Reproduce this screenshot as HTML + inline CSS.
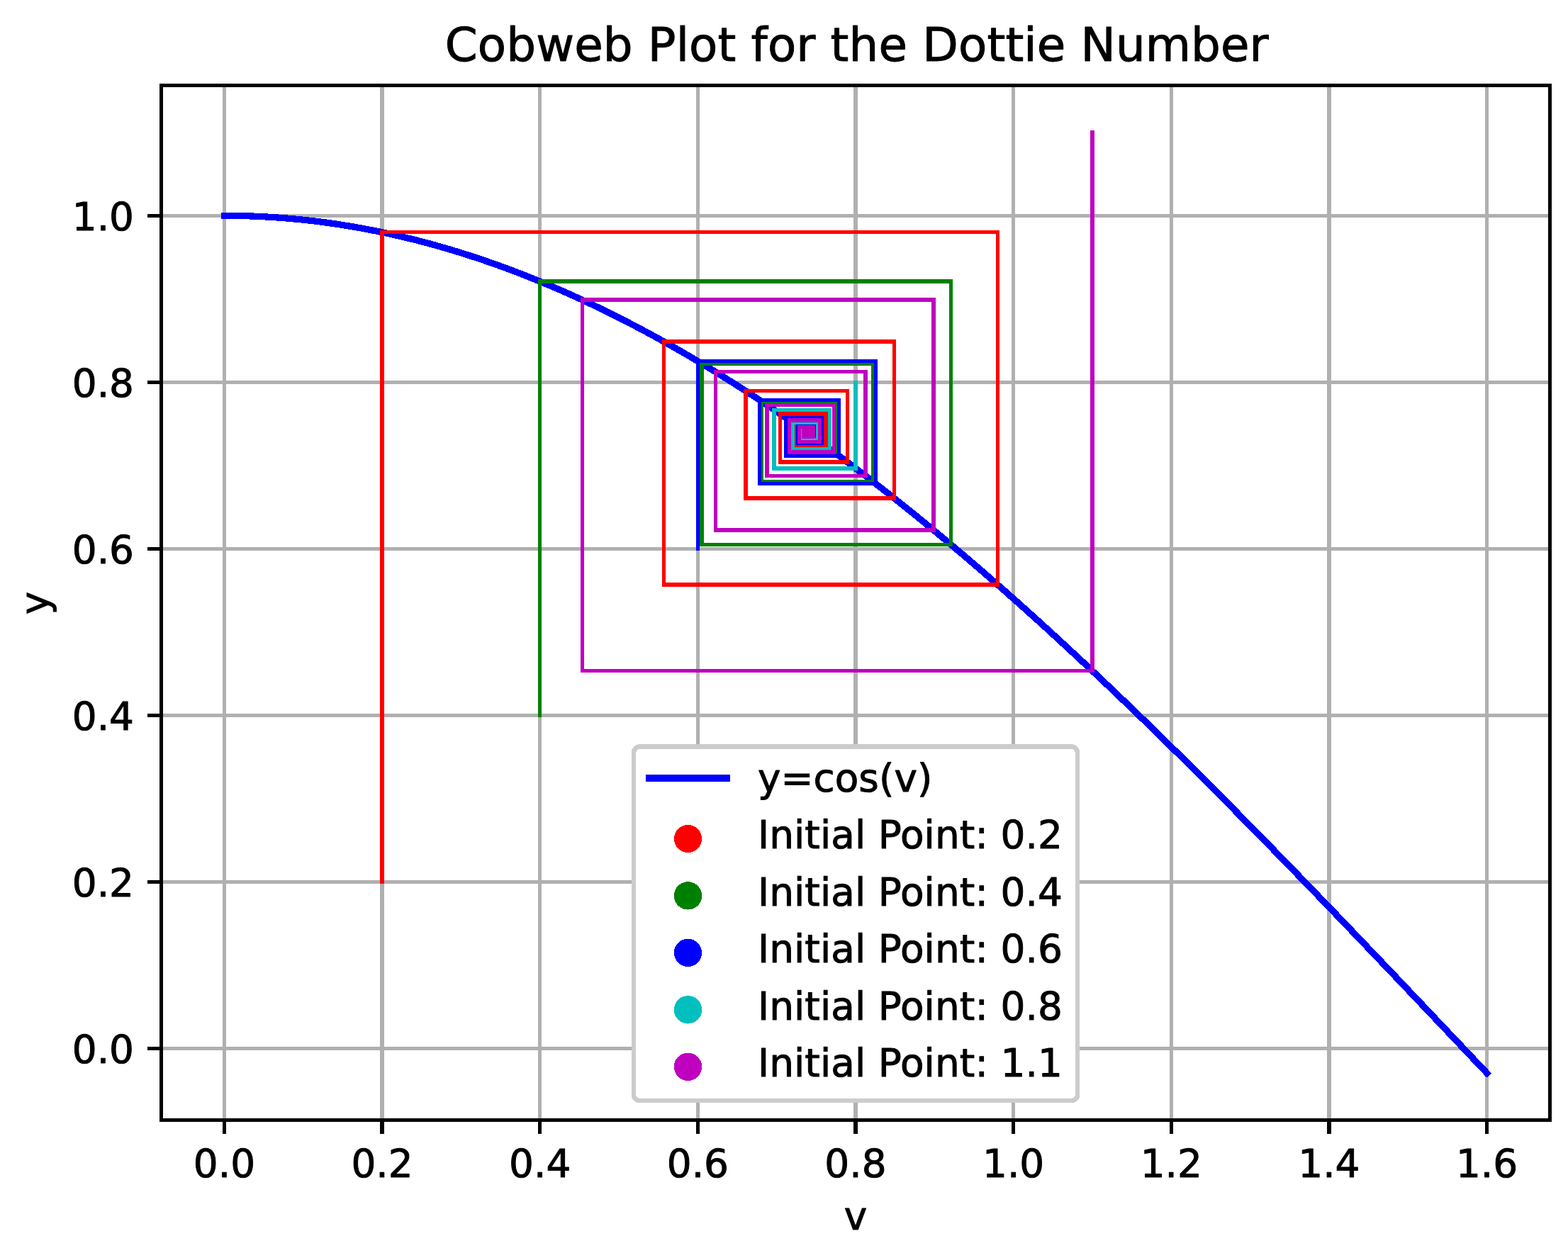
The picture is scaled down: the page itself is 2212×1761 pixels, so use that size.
<!DOCTYPE html>
<html lang="en"><head><meta charset="utf-8"><title>Cobweb Plot for the Dottie Number</title>
<style>html,body{margin:0;padding:0;background:#fff;width:2212px;height:1761px}svg{display:block}text{font-family:'DejaVu Sans','Liberation Sans',sans-serif;text-rendering:geometricPrecision;fill:#000;stroke:#000;stroke-width:1px;stroke-linejoin:round}</style></head><body>
<svg width="2212" height="1761" viewBox="0 0 2212 1761">
<rect width="2212" height="1761" fill="#fff"/>
<path id="grid" fill="#b0b0b0" d="M314 120h5v1461h-5zM536 120h6v1461h-6zM759 120h5v1461h-5zM982 120h5v1461h-5zM1204 120h6v1461h-6zM1427 120h5v1461h-5zM1650 120h5v1461h-5zM1872 120h6v1461h-6zM2095 120h5v1461h-5zM227 1477h1960v5h-1960zM227 1242h1960v5h-1960zM227 1007h1960v5h-1960zM227 772h1960v5h-1960zM227 537h1960v5h-1960zM227 302h1960v5h-1960z"/>
<path id="curve" fill="none" stroke="#0000ff" stroke-width="9.23" stroke-linecap="square" stroke-linejoin="round" shape-rendering="crispEdges" d="M316.45 304.3 L334.44 304.45 L352.43 304.91 L370.42 305.68 L388.41 306.76 L406.4 308.14 L424.39 309.82 L442.39 311.81 L460.38 314.11 L478.37 316.71 L496.36 319.62 L514.35 322.83 L532.34 326.34 L550.33 330.15 L568.32 334.26 L586.31 338.67 L604.3 343.38 L622.29 348.39 L640.28 353.69 L658.27 359.29 L676.27 365.17 L694.26 371.35 L712.25 377.82 L730.24 384.58 L748.23 391.62 L766.22 398.95 L784.21 406.56 L802.2 414.45 L820.19 422.62 L838.18 431.06 L856.17 439.78 L874.16 448.77 L892.16 458.03 L910.15 467.55 L928.14 477.34 L946.13 487.4 L964.12 497.71 L982.11 508.28 L1000.1 519.1 L1018.09 530.17 L1036.08 541.49 L1054.07 553.06 L1072.06 564.86 L1090.05 576.91 L1108.04 589.19 L1126.04 601.71 L1144.03 614.45 L1162.02 627.42 L1180.01 640.62 L1198 654.03 L1215.99 667.66 L1233.98 681.5 L1251.97 695.54 L1269.96 709.8 L1287.95 724.25 L1305.94 738.9 L1323.93 753.75 L1341.92 768.78 L1359.92 784.01 L1377.91 799.41 L1395.9 814.99 L1413.89 830.74 L1431.88 846.66 L1449.87 862.75 L1467.86 879 L1485.85 895.41 L1503.84 911.97 L1521.83 928.68 L1539.82 945.53 L1557.81 962.52 L1575.81 979.65 L1593.8 996.9 L1611.79 1014.29 L1629.78 1031.79 L1647.77 1049.41 L1665.76 1067.15 L1683.75 1084.99 L1701.74 1102.93 L1719.73 1120.98 L1737.72 1139.11 L1755.71 1157.34 L1773.7 1175.65 L1791.69 1194.04 L1809.69 1212.5 L1827.68 1231.04 L1845.67 1249.64 L1863.66 1268.3 L1881.65 1287.01 L1899.64 1305.78 L1917.63 1324.59 L1935.62 1343.44 L1953.61 1362.32 L1971.6 1381.24 L1989.59 1400.18 L2007.58 1419.15 L2025.57 1438.13 L2043.57 1457.12 L2061.56 1476.11 L2079.55 1495.11 L2097.54 1514.1"/>
<path class="cob" fill="#ff0000" d="M536 325h6v922h-6zM536 325h874v5h-874zM1405 325h5v503h-5zM934 822h476v6h-476zM934 479h5v349h-5zM934 479h330v6h-330zM1259 479h5v227h-5zM1049 700h215v6h-215zM1049 549h6v157h-6zM1049 549h149v5h-149zM1193 549h5v106h-5zM1098 649h100v6h-100zM1098 581h5v74h-5zM1098 581h70v6h-70zM1162 581h6v51h-6zM1119 627h49v5h-49zM1119 596h5v36h-5zM1119 596h35v5h-35zM1148 596h6v26h-6zM1129 617h25v5h-25zM1129 603h5v19h-5zM1129 603h18v5h-18zM1142 603h5v14h-5zM1133 612h14v5h-14zM1133 606h5v11h-5zM1133 606h11v5h-11zM1139 606h5v9h-5zM1135 610h9v5h-9zM1135 607h5v8h-5zM1135 607h8v6h-8zM1138 607h5v7h-5zM1136 609h7v5h-7zM1136 608h5v6h-5zM1136 608h6v5h-6zM1137 608h5v6h-5zM1136 609h6v5h-6zM1136 608h6v6h-6zM1136 608h6v5h-6zM1137 608h5v6h-5zM1136 608h6v6h-6z"/>
<path class="cob" fill="#008000" d="M759 394h5v618h-5zM759 394h585v6h-585zM1339 394h5v377h-5zM987 766h357v5h-357zM987 510h6v261h-6zM987 510h248v6h-248zM1229 510h6v173h-6zM1071 677h164v6h-164zM1071 563h6v120h-6zM1071 563h113v6h-113zM1179 563h5v82h-5zM1107 639h77v6h-77zM1107 588h6v57h-6zM1107 588h54v5h-54zM1156 588h5v40h-5zM1123 622h38v6h-38zM1123 599h6v29h-6zM1123 599h28v5h-28zM1145 599h6v21h-6zM1131 615h20v5h-20zM1131 604h5v16h-5zM1131 604h15v5h-15zM1141 604h5v13h-5zM1134 611h12v6h-12zM1134 606h5v11h-5zM1134 606h10v6h-10zM1138 606h6v9h-6zM1135 610h9v5h-9zM1135 607h6v8h-6zM1135 607h8v6h-8zM1137 607h6v7h-6zM1136 609h7v5h-7zM1136 608h5v6h-5zM1136 608h6v5h-6zM1137 608h5v6h-5zM1136 609h6v5h-6zM1136 608h6v6h-6zM1136 608h6v6h-6zM1137 608h5v6h-5zM1136 608h6v6h-6z"/>
<path class="cob" fill="#0000ff" d="M982 507h5v270h-5zM982 507h256v5h-256zM1233 507h5v178h-5zM1069 680h169v5h-169zM1069 562h5v123h-5zM1069 562h117v5h-117zM1181 562h5v84h-5zM1106 640h80v6h-80zM1106 587h6v59h-6zM1106 587h56v5h-56zM1157 587h5v41h-5zM1123 623h39v5h-39zM1123 599h5v29h-5zM1123 599h28v5h-28zM1146 599h5v21h-5zM1130 615h21v5h-21zM1130 604h6v16h-6zM1130 604h16v5h-16zM1141 604h5v13h-5zM1134 611h12v6h-12zM1134 606h5v11h-5zM1134 606h10v6h-10zM1138 606h6v9h-6zM1135 610h9v5h-9zM1135 607h6v8h-6zM1135 607h8v6h-8zM1137 607h6v7h-6zM1136 609h7v5h-7zM1136 608h5v6h-5zM1136 608h6v5h-6zM1137 608h5v6h-5zM1136 609h6v5h-6zM1136 608h6v6h-6zM1136 608h6v6h-6zM1137 608h5v6h-5zM1136 608h6v6h-6zM1136 608h6v6h-6zM1136 608h6v6h-6zM1137 608h5v6h-5zM1136 608h6v6h-6z"/>
<path class="cob" fill="#00bfbf" d="M1204 537h6v127h-6zM1089 658h121v6h-121zM1089 576h6v88h-6zM1089 576h84v5h-84zM1168 576h5v60h-5zM1115 631h58v5h-58zM1115 593h6v43h-6zM1115 593h41v6h-41zM1151 593h5v31h-5zM1127 618h29v6h-29zM1127 602h5v22h-5zM1127 602h21v5h-21zM1143 602h5v16h-5zM1132 613h16v5h-16zM1132 605h6v13h-6zM1132 605h13v6h-13zM1139 605h6v11h-6zM1135 610h10v6h-10zM1135 607h5v9h-5zM1135 607h8v5h-8zM1138 607h5v8h-5zM1136 609h7v6h-7zM1136 608h5v7h-5zM1136 608h6v5h-6zM1137 608h5v6h-5zM1136 609h6v5h-6zM1136 608h5v6h-5zM1136 608h6v5h-6zM1137 608h5v6h-5zM1136 609h6v5h-6zM1136 608h6v6h-6zM1136 608h6v6h-6zM1137 608h5v6h-5zM1136 608h6v6h-6zM1136 608h6v6h-6zM1136 608h6v6h-6zM1137 608h5v6h-5zM1136 608h6v6h-6zM1136 608h6v6h-6zM1136 608h6v6h-6z"/>
<path class="cob" fill="#bf00bf" d="M1538 184h6v765h-6zM819 944h725v5h-725zM819 420h5v529h-5zM819 420h501v6h-501zM1314 420h6v331h-6zM1007 745h313v6h-313zM1007 522h5v229h-5zM1007 522h217v5h-217zM1218 522h6v152h-6zM1079 669h145v5h-145zM1079 569h6v105h-6zM1079 569h100v5h-100zM1174 569h5v72h-5zM1111 635h68v6h-68zM1111 590h5v51h-5zM1111 590h48v6h-48zM1154 590h5v36h-5zM1125 621h34v5h-34zM1125 600h5v26h-5zM1125 600h25v5h-25zM1144 600h6v19h-6zM1131 614h19v5h-19zM1131 605h6v14h-6zM1131 605h14v5h-14zM1140 605h5v11h-5zM1134 611h11v5h-11zM1134 607h5v9h-5zM1134 607h9v5h-9zM1138 607h5v8h-5zM1135 609h8v6h-8zM1135 608h6v7h-6zM1135 608h8v5h-8zM1137 608h6v6h-6zM1136 609h7v5h-7zM1136 608h5v6h-5zM1136 608h6v5h-6zM1137 608h5v6h-5zM1136 609h6v5h-6zM1136 608h6v6h-6zM1136 608h6v6h-6z"/>
<path id="axes" fill="#000" d="M225 118h5v1465h-5zM2184 118h5v1465h-5zM225 118h1964v5h-1964zM225 1578h1964v5h-1964zM314 1580h5v20h-5zM536 1580h6v20h-6zM759 1580h5v20h-5zM982 1580h5v20h-5zM1204 1580h6v20h-6zM1427 1580h5v20h-5zM1650 1580h5v20h-5zM1872 1580h6v20h-6zM2095 1580h5v20h-5zM208 1477h20v5h-20zM208 1242h20v5h-20zM208 1007h20v5h-20zM208 772h20v5h-20zM208 537h20v5h-20zM208 302h20v5h-20z"/>
<g font-size="54.86" text-anchor="middle" letter-spacing="0.0">
<text x="316.45" y="1661">0.0</text>
<text x="539.09" y="1661">0.2</text>
<text x="761.72" y="1661">0.4</text>
<text x="984.36" y="1661">0.6</text>
<text x="1206.99" y="1661">0.8</text>
<text x="1429.63" y="1661">1.0</text>
<text x="1652.27" y="1661">1.2</text>
<text x="1874.9" y="1661">1.4</text>
<text x="2097.54" y="1661">1.6</text>
</g>
<g font-size="54.86" text-anchor="end" letter-spacing="0.0">
<text x="189" y="1500">0.0</text>
<text x="189" y="1265">0.2</text>
<text x="189" y="1030">0.4</text>
<text x="189" y="795">0.6</text>
<text x="189" y="560">0.8</text>
<text x="189" y="325">1.0</text>
</g>
<text x="1207" y="1735" font-size="54.86" text-anchor="middle">v</text>
<text transform="translate(68 850.9) rotate(-90)" font-size="54.86" text-anchor="middle">y</text>
<text x="627.7" y="86" font-size="65.83" letter-spacing="0.15">Cobweb Plot for the Dottie Number</text>
<rect id="legend" x="894" y="1053.5" width="626" height="499.5" rx="8.5" ry="8.5" fill="#fff" stroke="#ccc" stroke-width="6.49" shape-rendering="crispEdges"/>
<path fill="#0000ff" d="M911 1093h119v10h-119z"/>
<circle cx="970.5" cy="1183.5" r="19.7" fill="#ff0000" shape-rendering="crispEdges"/>
<circle cx="970.5" cy="1263.9" r="19.7" fill="#008000" shape-rendering="crispEdges"/>
<circle cx="970.5" cy="1344.4" r="19.7" fill="#0000ff" shape-rendering="crispEdges"/>
<circle cx="970.5" cy="1424.8" r="19.7" fill="#00bfbf" shape-rendering="crispEdges"/>
<circle cx="970.5" cy="1505.3" r="19.7" fill="#bf00bf" shape-rendering="crispEdges"/>
<g font-size="54.86" letter-spacing="0.08">
<text x="1068.9" y="1117">y=cos(v)</text>
<text x="1068.9" y="1197">Initial Point: 0.2</text>
<text x="1068.9" y="1278">Initial Point: 0.4</text>
<text x="1068.9" y="1358">Initial Point: 0.6</text>
<text x="1068.9" y="1439">Initial Point: 0.8</text>
<text x="1068.9" y="1519">Initial Point: 1.1</text>
</g>
</svg></body></html>
